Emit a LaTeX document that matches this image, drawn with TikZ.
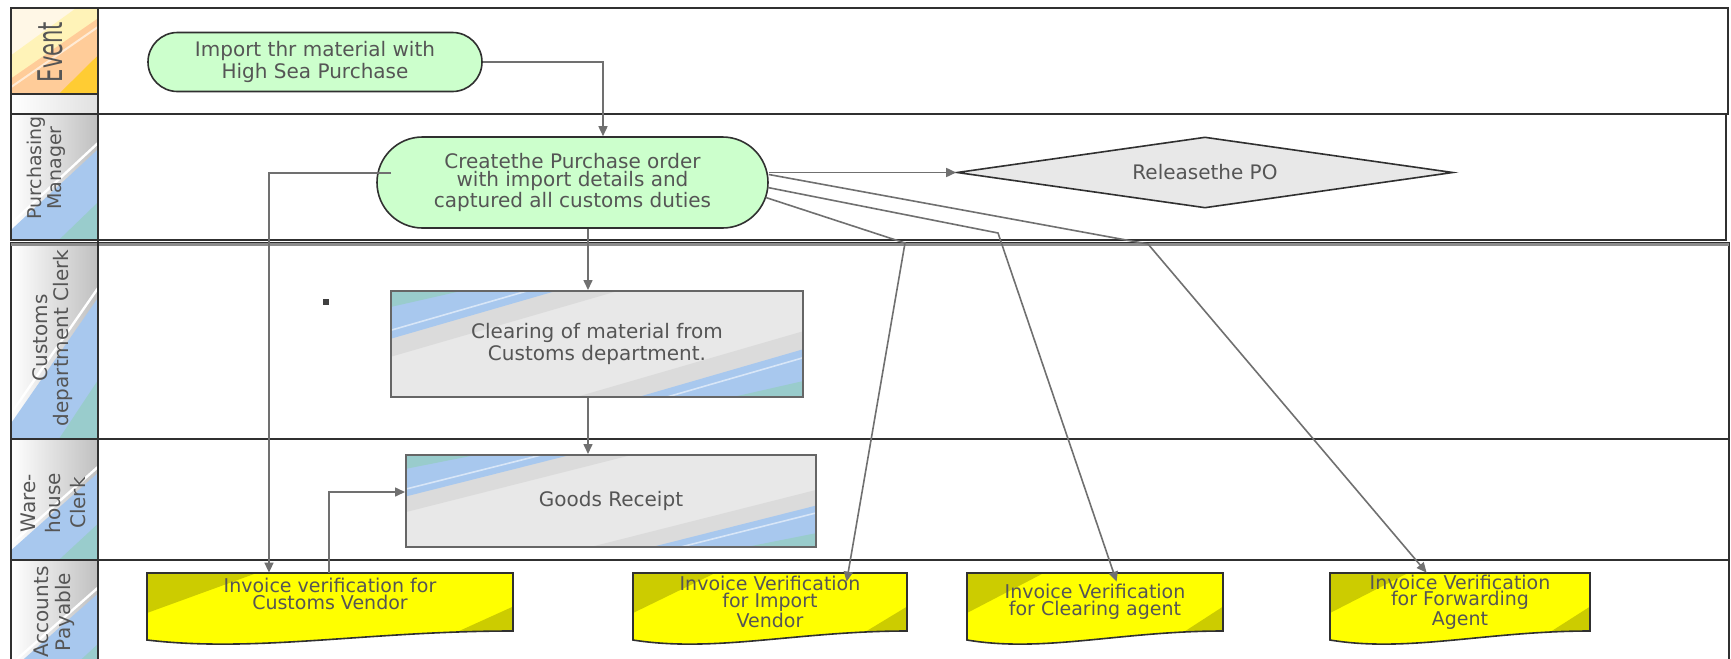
\documentclass[tikz,border=0pt]{standalone}
\usepackage{fontspec}
\setmainfont{DejaVu Sans}
\usetikzlibrary{arrows.meta,calc,shapes.geometric,shapes.misc}

\definecolor{txtc}{HTML}{555555}
\definecolor{lineg}{HTML}{707070}
\definecolor{termfill}{HTML}{CCFFCC}
\definecolor{boxgray}{HTML}{E8E8E8}
\definecolor{boxband}{HTML}{DBDBDB}
\definecolor{ltblue}{HTML}{A8C8EE}
\definecolor{tealc}{HTML}{99CCCC}
\definecolor{docyel}{HTML}{FFFF00}
\definecolor{docolive}{HTML}{CCCC00}
\definecolor{evcream}{HTML}{FFF7E6}
\definecolor{evyel}{HTML}{FFF3B8}
\definecolor{evpeach}{HTML}{FFCC99}
\definecolor{evgold}{HTML}{FFCC33}
\definecolor{framec}{HTML}{303030}

\tikzset{
  arr/.style={draw=lineg, line width=0.8pt, -{Triangle[length=5pt,width=4.5pt]}},
  lanebox/.style={draw=framec, line width=0.8pt},
  bodytext/.style={text=txtc, font=\fontsize{10}{9.2}\selectfont, align=center},
  term/.style={rounded rectangle, draw=framec, line width=0.8pt, fill=termfill, inner sep=0pt, bodytext},
  taskdeco/.style={path picture={
      \coordinate (pA) at (path picture bounding box.north west);
      \coordinate (pB) at (path picture bounding box.north east);
      \coordinate (pC) at (path picture bounding box.south east);
      \coordinate (pD) at (path picture bounding box.south west);
      \fill[boxband] (pA) -- ($(pA)!0.55!(pB)$) -- ($(pA)!0.62!(pD)$) -- cycle;
      \fill[ltblue] (pA) -- ($(pA)!0.40!(pB)$) -- ($(pA)!0.45!(pD)$) -- cycle;
      \draw[white!55!ltblue, line width=0.8pt] ($(pA)!0.33!(pB)$) -- ($(pA)!0.37!(pD)$);
      \fill[tealc] (pA) -- ($(pA)!0.17!(pB)$) -- ($(pA)!0.15!(pD)$) -- cycle;
      \fill[boxband] (pC) -- ($(pC)!0.55!(pD)$) -- ($(pC)!0.62!(pB)$) -- cycle;
      \fill[ltblue] (pC) -- ($(pC)!0.40!(pD)$) -- ($(pC)!0.45!(pB)$) -- cycle;
      \draw[white!55!ltblue, line width=0.8pt] ($(pC)!0.33!(pD)$) -- ($(pC)!0.37!(pB)$);
      \fill[tealc] (pC) -- ($(pC)!0.17!(pD)$) -- ($(pC)!0.15!(pB)$) -- cycle;
  }},
  task/.style={rectangle, draw=black!60, line width=1pt, fill=boxgray, inner sep=0pt, bodytext, taskdeco},
  decision/.style={diamond, draw=framec, line width=0.8pt, fill=boxgray, inner sep=0pt, bodytext},
  doctext/.style={rectangle, inner sep=0pt, text=txtc, align=center, font=\fontsize{9.5}{8.3}\selectfont},
  docdeco/.style={path picture={
      \coordinate (pA) at (path picture bounding box.north west);
      \coordinate (pB) at (path picture bounding box.north east);
      \coordinate (pC) at (path picture bounding box.south east);
      \coordinate (pD) at (path picture bounding box.south west);
      \fill[docolive] (pA) -- ($(pA)!0.3!(pB)$) -- ($(pA)!0.5!(pD)$) -- cycle;
      \fill[docolive] ($(pB)!0.42!(pC)$) -- (pC) -- ($(pD)!0.72!(pC)$) -- cycle;
  }},
  graydeco/.style={path picture={
      \coordinate (pA) at (path picture bounding box.north west);
      \coordinate (pB) at (path picture bounding box.north east);
      \coordinate (pC) at (path picture bounding box.south east);
      \coordinate (pD) at (path picture bounding box.south west);
      \shade[left color=white, right color=black!25] (pA) rectangle (pC);
      \fill[ltblue] ($(pD)!0.08!(pA)$) -- ($(pB)!0.28!(pC)$) -- (pC) -- (pD) -- cycle;
      \draw[white, line width=1.2pt] ($(pD)!0.13!(pA)$) -- ($(pB)!0.23!(pC)$);
      \fill[tealc] ($(pC)!0.3!(pB)$) -- (pC) -- ($(pC)!0.45!(pD)$) -- cycle;
  }},
  evdeco/.style={path picture={
      \coordinate (pA) at (path picture bounding box.north west);
      \coordinate (pB) at (path picture bounding box.north east);
      \coordinate (pC) at (path picture bounding box.south east);
      \coordinate (pD) at (path picture bounding box.south west);
      \fill[evyel] ($(pA)!0.55!(pD)$) -- ($(pA)!0.75!(pB)$) -- (pB) -- (pC) -- (pD) -- cycle;
      \fill[evpeach] ($(pA)!0.82!(pD)$) -- ($(pB)!0.12!(pC)$) -- (pC) -- (pD) -- cycle;
      \draw[white!60!evpeach, line width=1pt] ($(pA)!0.92!(pD)$) -- ($(pB)!0.22!(pC)$);
      \fill[evgold] ($(pD)!0.55!(pC)$) -- ($(pB)!0.55!(pC)$) -- (pC) -- cycle;
  }},
  lanelabel/.style={rotate=90, text=txtc, align=center, inner sep=0pt},
}

\newcommand{\invshape}[4]{%
  \path[fill=docyel, draw=framec, line width=0.8pt, docdeco]
    (#1,#2) -- (#3,#2) -- (#3,#4)
    .. controls ({#3-0.4*(#3-#1)},#4) and ({#1+0.3*(#3-#1)},{#4+22}) .. (#1,{#4+9}) -- cycle;
}

\begin{document}
\begin{tikzpicture}[x=0.5pt, y=-0.5pt]
\useasboundingbox (0,0) rectangle (1731,659);
\clip (0,0) rectangle (1731,659);
\fill[white] (0,0) rectangle (1731,659);

% lane label cells
\path[fill=evcream, evdeco] (11,8) rectangle (98,94);
\shade[left color=white, right color=black!12] (11,94) rectangle (98,114);
\path[graydeco] (11,114) rectangle (98,240);
\path[graydeco] (11,243) rectangle (98,439);
\path[graydeco] (11,439) rectangle (98,560);
\path[graydeco] (11,560) rectangle (98,680);

% lanes
\draw[lanebox] (11,8) rectangle (1728,114);
\draw[lanebox] (11,114) rectangle (1726,240);
\draw[lanebox] (11,243) rectangle (1729,439);
\draw[lanebox] (11,439) rectangle (1729,560);
\draw[lanebox] (11,560) rectangle (1729,680);
\draw[black!45, line width=1.2pt] (11,244.5) -- (1729,244.5);
\draw[framec, line width=1.2pt] (98,8) -- (98,680);
\draw[framec, line width=0.8pt] (11,94) -- (98,94);

% lane labels
\node[lanelabel, font=\fontsize{17}{17}\selectfont] (lbEv) at (50,52) {\scalebox{0.62}[1]{Event}};
\node[lanelabel, font=\fontsize{9.5}{7.8}\selectfont] (lbPM) at (46,168) {Purchasing\\Manager};
\node[lanelabel, font=\fontsize{10}{10.5}\selectfont] (lbCu) at (53,338) {Customs\\department Clerk};
\node[lanelabel, font=\fontsize{10}{12.5}\selectfont] (lbWh) at (53,503) {Ware-\\house\\Clerk};
\node[lanelabel, font=\fontsize{10}{11}\selectfont] (lbAP) at (54,612) {Accounts\\Payable};

% nodes
\node[term, minimum width=167pt, minimum height=29.5pt] (ev) at (315,62) {Import thr material with\\High Sea Purchase};
\node[term, minimum width=195.5pt, minimum height=45.5pt] (pm) at (572.5,182.5) {Createthe Purchase order\\with import details and\\captured all customs duties};
\node[decision, minimum width=248pt, minimum height=35.5pt, shape aspect=7] (rel) at (1205,172.5) {Releasethe PO};
\node[task, minimum width=206pt, minimum height=53pt] (cl) at (597,344) {Clearing of material from\\Customs department.};
\node[task, minimum width=205pt, minimum height=46pt] (gr) at (611,501) {Goods Receipt};
\fill[black!75] (323,299) rectangle (329,305);

% invoice documents
\invshape{147}{573}{513}{631}
\node[doctext, minimum width=183pt, minimum height=29pt] (cv) at (330,602) {Invoice verification for\\Customs Vendor\\\mbox{}};
\invshape{633}{573}{907}{631}
\node[doctext, minimum width=137pt, minimum height=29pt] (iv2) at (770,602) {Invoice Verification\\for Import\\Vendor};
\invshape{967}{573}{1223}{631}
\node[doctext, minimum width=128pt, minimum height=29pt] (iv3) at (1095,602) {Invoice Verification\\for Clearing agent};
\invshape{1330}{573}{1590}{631}
\node[doctext, minimum width=130pt, minimum height=29pt] (iv4) at (1460,602) {Invoice Verification\\for Forwarding\\Agent};

% connectors
\coordinate (c0) at (603,62);
\draw[arr] (ev.east) -- (c0) -- (c0 |- pm.north);
\coordinate (c3) at (588,0);
\draw[arr] (c3 |- pm.south) -- (c3 |- cl.north);
\draw[arr] (c3 |- cl.south) -- (c3 |- gr.north);
\draw[arr] (rel.west -| pm.east) -- (rel.west);
\coordinate (c1) at (269,173);
\draw[arr] ($(pm.west)+(15,-9.5)$) -- (c1) -- (c1 |- cv.north);
\coordinate (c2) at (329,492);
\draw[arr] (c2 |- cv.north) -- (c2) -- (c2 -| gr.west);
\coordinate (b1) at (905,243);
\coordinate (b2) at (998,233);
\coordinate (b3) at (1148,244);
\draw[arr] ($(pm.east)+(-3,15)$) -- (b1) -- ($(iv2.north west)+(214,9)$);
\draw[arr] ($(pm.east)+(-1,5)$) -- (b2) -- ($(iv3.north west)+(150,9)$);
\draw[arr] ($(pm.east)+(0,-8)$) -- (b3) -- ($(iv4.north west)+(97,0)$);
\end{tikzpicture}
\end{document}
